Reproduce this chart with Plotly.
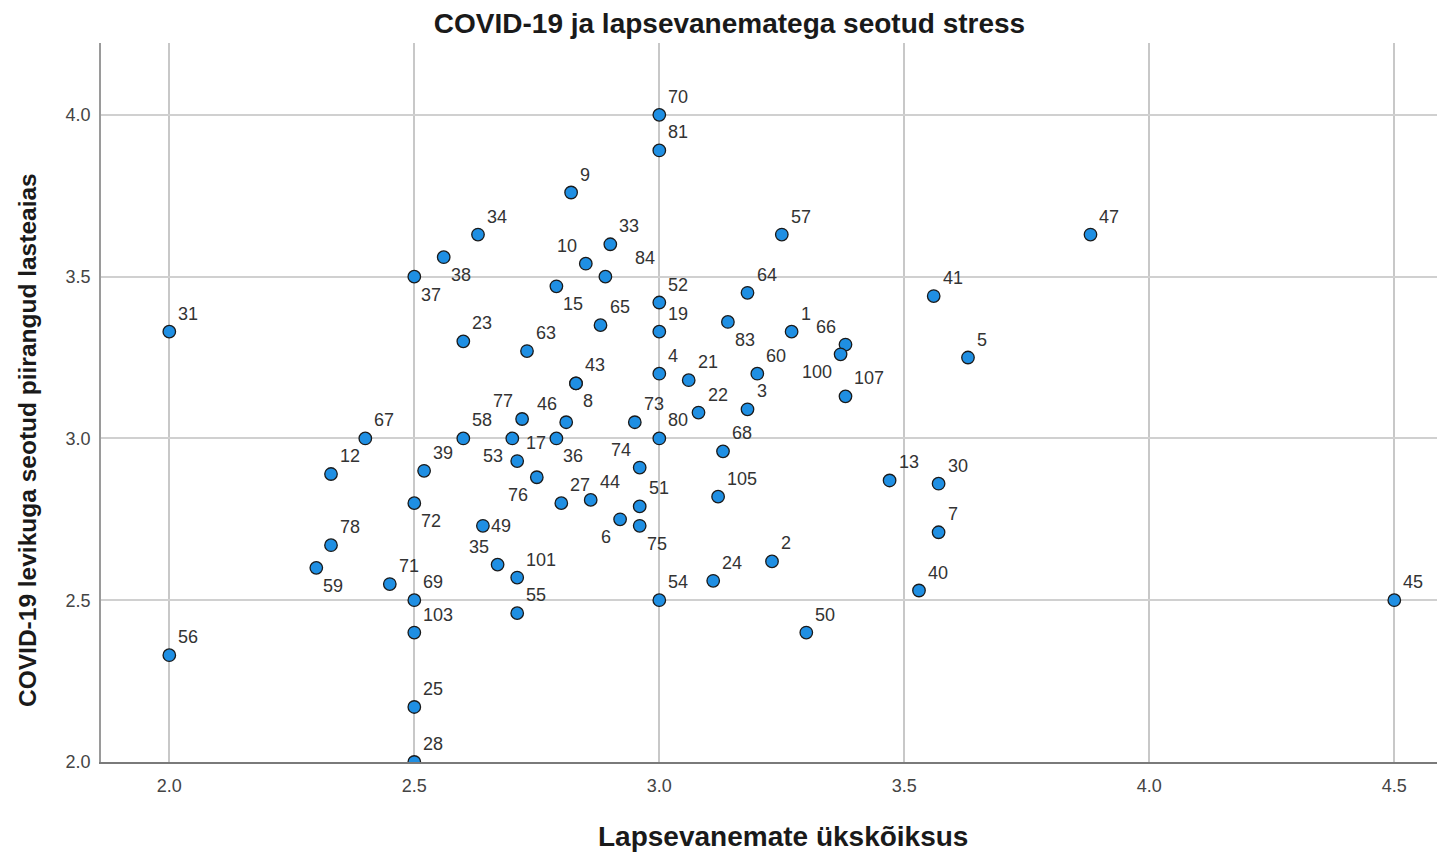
import plotly.graph_objects as go

# ---- data ----
ids = [70, 81, 9, 34, 38, 37, 10, 33, 84, 15,
       57, 64, 52, 19, 65, 31, 23, 63, 83, 1,
       66, 100, 107, 60, 4, 21, 43, 8, 22, 3,
       77, 46, 73, 58, 53, 36, 80, 67, 12, 39,
       17, 68, 74, 76, 13, 30, 105, 44, 27, 72,
       51, 6, 75, 49, 7, 78, 2, 35, 59, 101,
       24, 71, 40, 69, 54, 45, 55, 103, 50, 56,
       25, 28, 41, 5, 47]

x_vals = [3.00, 3.00, 2.82, 2.63, 2.56, 2.50, 2.85, 2.90, 2.89, 2.79,
          3.25, 3.18, 3.00, 3.00, 2.88, 2.00, 2.60, 2.73, 3.14, 3.27,
          3.38, 3.37, 3.38, 3.20, 3.00, 3.06, 2.83, 2.83, 3.08, 3.18,
          2.72, 2.81, 2.95, 2.60, 2.70, 2.79, 3.00, 2.40, 2.33, 2.52,
          2.71, 3.13, 2.96, 2.75, 3.47, 3.57, 3.12, 2.86, 2.80, 2.50,
          2.96, 2.92, 2.96, 2.64, 3.57, 2.33, 3.23, 2.67, 2.30, 2.71,
          3.11, 2.45, 3.53, 2.50, 3.00, 4.50, 2.71, 2.50, 3.30, 2.00,
          2.50, 2.50, 3.56, 3.63, 3.88]

y_vals = [4.00, 3.89, 3.76, 3.63, 3.56, 3.50, 3.54, 3.60, 3.50, 3.47,
          3.63, 3.45, 3.42, 3.33, 3.35, 3.33, 3.30, 3.27, 3.36, 3.33,
          3.29, 3.26, 3.13, 3.20, 3.20, 3.18, 3.17, 3.17, 3.08, 3.09,
          3.06, 3.05, 3.05, 3.00, 3.00, 3.00, 3.00, 3.00, 2.89, 2.90,
          2.93, 2.96, 2.91, 2.88, 2.87, 2.86, 2.82, 2.81, 2.80, 2.80,
          2.79, 2.75, 2.73, 2.73, 2.71, 2.67, 2.62, 2.61, 2.60, 2.57,
          2.56, 2.55, 2.53, 2.50, 2.50, 2.50, 2.46, 2.40, 2.40, 2.33,
          2.17, 2.00, 3.44, 3.25, 3.63]

x_ticks = [2.0, 2.5, 3.0, 3.5, 4.0, 4.5]
y_ticks = [2.0, 2.5, 3.0, 3.5, 4.0]

title_text = "COVID-19 ja lapsevanematega seotud stress"
x_title = "Lapsevanemate ükskõiksus"
y_title = "COVID-19 levikuga seotud piirangud lasteaias"

# ---- label placement (style) ----
label_place = {
    38: "lr", 37: "lr", 10: "ul", 84: "far", 15: "lr", 83: "lr", 66: "ul",
    100: "ll", 8: "lr", 77: "ul", 46: "ul", 53: "ll", 36: "lr", 74: "ul",
    76: "ll", 72: "lr", 6: "ll", 75: "lr", 49: "r", 35: "ul", 59: "lr",
}
offsets = {
    "ur": ("left", 7, 18),
    "lr": ("left", 5, -18),
    "ul": ("right", -7, 18),
    "ll": ("right", -7, -18),
    "r": ("left", 6, 0),
    "far": ("left", 28, 19),
}

FONT = "Liberation Sans, Arial, sans-serif"

# page body has an 8px margin: the figure is sized/shifted to compensate
W, H, OFF = 1437, 844, 8

fig = go.Figure()
fig.add_trace(go.Scatter(
    x=x_vals, y=y_vals, mode="markers",
    marker=dict(size=12.5, color="#1f8fe3", line=dict(color="#1a1a1a", width=1.3)),
    hoverinfo="skip", showlegend=False,
))

annotations = []
for i, xv, yv in zip(ids, x_vals, y_vals):
    anchor, dx, dy = offsets[label_place.get(i, "ur")]
    annotations.append(dict(
        x=xv, y=yv, xref="x", yref="y", text=str(i), showarrow=False,
        xanchor=anchor, yanchor="middle", xshift=dx, yshift=dy,
        font=dict(family=FONT, size=18, color="#333333"),
    ))

# axis titles
annotations.append(dict(
    x=(783 - 101) / 1344, y=-(836 - 762) / 719, xref="paper", yref="paper",
    text="<b>" + x_title + "</b>", showarrow=False, xanchor="center", yanchor="middle",
    font=dict(family=FONT, size=28, color="#1a1a1a"),
))
annotations.append(dict(
    x=(27 - 101) / 1344, y=(762 - 440) / 719, xref="paper", yref="paper",
    text="<b>" + y_title + "</b>", showarrow=False, xanchor="center", yanchor="middle",
    textangle=-90, font=dict(family=FONT, size=24.5, color="#1a1a1a"),
))

fig.update_layout(
    width=W, height=H,
    margin=dict(l=101 - OFF, r=0, t=43 - OFF, b=H - (762 - OFF)),
    paper_bgcolor="white", plot_bgcolor="white",
    title=dict(text="<b>" + title_text + "</b>", x=(729.5 - OFF) / W, xanchor="center",
               y=1 - (23 - OFF) / H, yanchor="middle", yref="container",
               font=dict(family=FONT, size=28, color="#1a1a1a")),
    annotations=annotations,
    xaxis=dict(range=[1.8606, 4.6035], tickvals=x_ticks, tickformat=".1f",
               showgrid=True, gridcolor="#c8c8c8", gridwidth=1.5,
               zeroline=False, showline=True, linecolor="#7a7a7a", linewidth=2,
               mirror=False, ticks="outside", ticklen=6, tickcolor="rgba(0,0,0,0)",
               tickfont=dict(family=FONT, size=18, color="#444444")),
    yaxis=dict(range=[2.0, 4.222], tickvals=y_ticks, tickformat=".1f",
               showgrid=True, gridcolor="#d0d0d0", gridwidth=2,
               zeroline=False, showline=True, linecolor="#9a9a9a", linewidth=1.5,
               mirror=False, ticks="outside", ticklen=5, tickcolor="rgba(0,0,0,0)",
               tickfont=dict(family=FONT, size=18, color="#444444")),
)

fig.write_html("out.html")
